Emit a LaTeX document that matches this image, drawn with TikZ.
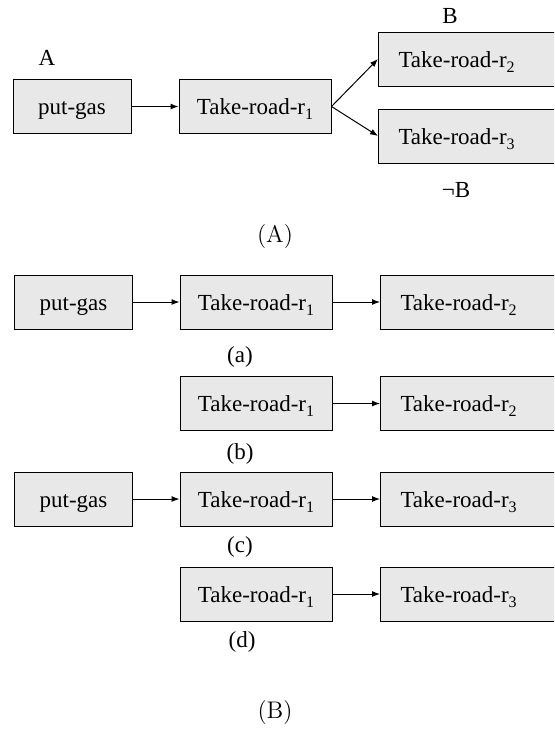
\documentclass[tikz,border=0pt]{standalone}
\usepackage{fontspec}
\newfontfamily\timesfont{Liberation Serif}
\usetikzlibrary{arrows.meta,positioning}
\definecolor{boxgray}{RGB}{232,232,232}
\newcommand{\rsub}[1]{\raisebox{-2.6pt}{\fontsize{8}{8}\selectfont #1}}
\tikzset {
  >={Latex[length=4pt,width=3pt]},
  every node/.style={font=\timesfont\fontsize{11.5}{13}\selectfont},
  action/.style={draw,fill=boxgray,line width=0.5pt,minimum height=27pt,inner sep=0pt,
    text height=9pt,text depth=1pt},
  gasbox/.style={action,minimum width=59pt},
  roadbox/.style={action,minimum width=76pt},
  endbox/.style={action,anchor=west,text width=75pt,align=left,inner xsep=10pt},
  partlabel/.style={font=\fontsize{12}{14}\selectfont},
}

\begin{document}
\begin{tikzpicture}[x=0.5pt,y=-0.5pt,line width=0.5pt]
      \useasboundingbox (0,0) rectangle (554,729);
      \clip (0,0) rectangle (554,729);

      % (A)
      \node[gasbox] (gasA) at (72,106.5) {put-gas};
      \node[roadbox] (oneA) at (255,106.5) {Take-road-r\rsub{1}};
      \node[endbox] (twoA) at (378,59) {Take-road-r\rsub{2}};
      \node[endbox] (threeA) at (378,136) {Take-road-r\rsub{3}};
      \draw[->] (gasA) -- (oneA);
      \draw[->] (oneA.east) -- (twoA.west);
      \draw[->] (oneA.east) -- (threeA.west);
      \node (labA) at (47,58) {A};
      \node (labB) at (450,16) {B};
      \node (labnB) at (456,190) {¬B};
      \node[partlabel] (partA) at (275,237) {(A)};

      % (B), row a
      \node[gasbox] (gasa) at (73.5,302) {put-gas};
      \node[roadbox] (onea) at (256,302) {Take-road-r\rsub{1}};
      \node[endbox] (twoa) at (380,302) {Take-road-r\rsub{2}};
      \draw[->] (gasa) -- (onea);
      \draw[->] (onea) -- (twoa);
      \node (capa) at (240,357) {(a)};

      % row b
      \node[roadbox] (oneb) at (256,403.5) {Take-road-r\rsub{1}};
      \node[endbox] (twob) at (380,403.5) {Take-road-r\rsub{2}};
      \draw[->] (oneb) -- (twob);
      \node (capb) at (240,454) {(b)};

      % row c
      \node[gasbox] (gasc) at (73.5,499) {put-gas};
      \node[roadbox] (onec) at (256,499) {Take-road-r\rsub{1}};
      \node[endbox] (threec) at (380,499) {Take-road-r\rsub{3}};
      \draw[->] (gasc) -- (onec);
      \draw[->] (onec) -- (threec);
      \node (capc) at (240,547) {(c)};

      % row d
      \node[roadbox] (oned) at (256,594) {Take-road-r\rsub{1}};
      \node[endbox] (threed) at (380,594) {Take-road-r\rsub{3}};
      \draw[->] (oned) -- (threed);
      \node (capd) at (242,642) {(d)};

      \node[partlabel] (partB) at (275,713) {(B)};
    \end{tikzpicture}
\end{document}
